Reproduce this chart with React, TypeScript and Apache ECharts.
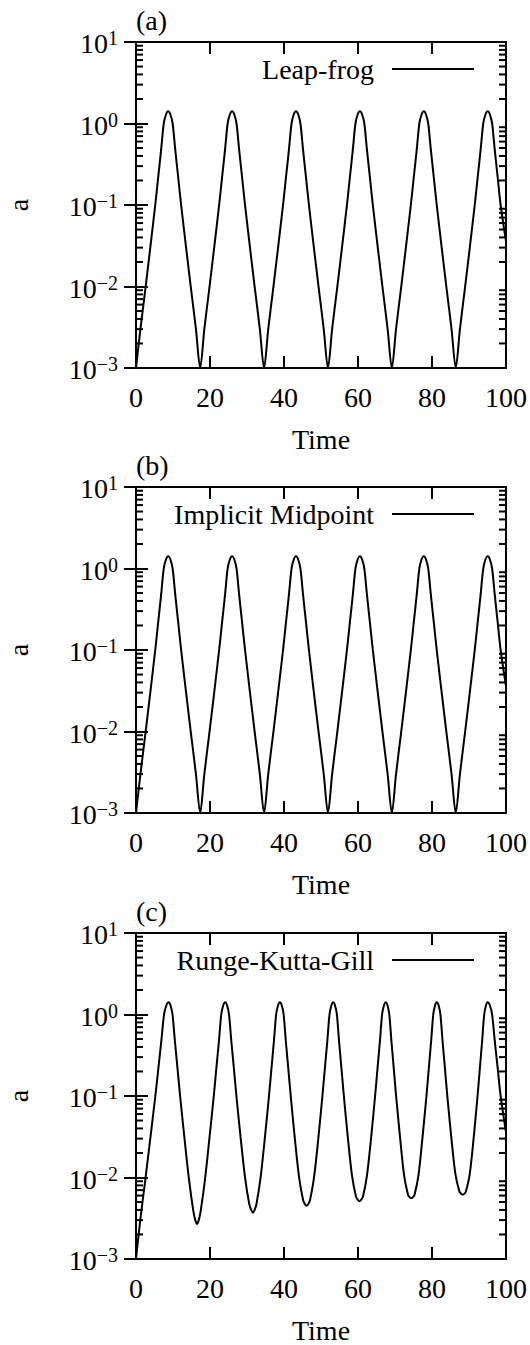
import React, { useEffect, useRef } from "react";
import * as echarts from "echarts";

const FONT = "Liberation Serif, Times New Roman, Times, serif";

// ---- axes / labels ----
const panelLabels = ["(a)", "(b)", "(c)"];
const methodNames = ["Leap-frog", "Implicit Midpoint", "Runge-Kutta-Gill"];
const xAxisName = "Time";
const yAxisName = "a";
const X_MIN = 0;
const X_MAX = 100;
const X_INTERVAL = 20;
const Y_MIN = 0.001;
const Y_MAX = 10;
const minorMantissas = [2, 3, 4, 5, 6, 7, 8, 9];
const minorDecades = [0.001, 0.01, 0.1, 1];

// ---- data: [time, a] ----
const leapFrog: [number, number][] = [
  [0.0, 0.001], [1.2, 0.003], [2.5, 0.0091], [3.9, 0.031], [5.2, 0.1], [6.0, 0.22], [6.8, 0.48], [7.5, 1.0], [8.1, 1.29], [8.7, 1.41],
  [9.3, 1.29], [9.9, 1.0], [10.6, 0.48], [11.4, 0.22], [12.2, 0.1], [13.5, 0.031], [14.9, 0.0091], [16.2, 0.003],
  [17.34, 0.001], [18.47, 0.003], [19.77, 0.0091], [21.17, 0.031], [22.47, 0.1], [23.27, 0.22], [24.07, 0.48], [24.77, 1.0], [25.37, 1.29], [25.97, 1.41],
  [26.57, 1.29], [27.17, 1.0], [27.87, 0.48], [28.67, 0.22], [29.47, 0.1], [30.77, 0.031], [32.17, 0.0091], [33.47, 0.003],
  [34.61, 0.001], [35.74, 0.003], [37.04, 0.0091], [38.44, 0.031], [39.74, 0.1], [40.54, 0.22], [41.34, 0.48], [42.04, 1.0], [42.64, 1.29], [43.24, 1.41],
  [43.84, 1.29], [44.44, 1.0], [45.14, 0.48], [45.94, 0.22], [46.74, 0.1], [48.04, 0.031], [49.44, 0.0091], [50.74, 0.003],
  [51.88, 0.001], [53.01, 0.003], [54.31, 0.0091], [55.71, 0.031], [57.01, 0.1], [57.81, 0.22], [58.61, 0.48], [59.31, 1.0], [59.91, 1.29], [60.51, 1.41],
  [61.11, 1.29], [61.71, 1.0], [62.41, 0.48], [63.21, 0.22], [64.01, 0.1], [65.31, 0.031], [66.71, 0.0091], [68.01, 0.003],
  [69.15, 0.001], [70.28, 0.003], [71.58, 0.0091], [72.98, 0.031], [74.28, 0.1], [75.08, 0.22], [75.88, 0.48], [76.58, 1.0], [77.18, 1.29], [77.78, 1.41],
  [78.38, 1.29], [78.98, 1.0], [79.68, 0.48], [80.48, 0.22], [81.28, 0.1], [82.58, 0.031], [83.98, 0.0091], [85.28, 0.003],
  [86.42, 0.001], [87.55, 0.003], [88.85, 0.0091], [90.25, 0.031], [91.55, 0.1], [92.35, 0.22], [93.15, 0.48], [93.85, 1.0], [94.45, 1.29], [95.05, 1.41],
  [95.65, 1.29], [96.25, 1.0], [96.95, 0.48], [97.75, 0.22], [98.55, 0.1], [100.0, 0.036],
];

const implicitMidpoint: [number, number][] = [
  [0.0, 0.001], [1.2, 0.003], [2.5, 0.0091], [3.9, 0.031], [5.2, 0.1], [6.0, 0.22], [6.8, 0.48], [7.5, 1.0], [8.1, 1.29], [8.7, 1.41],
  [9.3, 1.29], [9.9, 1.0], [10.6, 0.48], [11.4, 0.22], [12.2, 0.1], [13.5, 0.031], [14.9, 0.0091], [16.2, 0.003],
  [17.34, 0.001], [18.47, 0.003], [19.77, 0.0091], [21.17, 0.031], [22.47, 0.1], [23.27, 0.22], [24.07, 0.48], [24.77, 1.0], [25.37, 1.29], [25.97, 1.41],
  [26.57, 1.29], [27.17, 1.0], [27.87, 0.48], [28.67, 0.22], [29.47, 0.1], [30.77, 0.031], [32.17, 0.0091], [33.47, 0.003],
  [34.61, 0.001], [35.74, 0.003], [37.04, 0.0091], [38.44, 0.031], [39.74, 0.1], [40.54, 0.22], [41.34, 0.48], [42.04, 1.0], [42.64, 1.29], [43.24, 1.41],
  [43.84, 1.29], [44.44, 1.0], [45.14, 0.48], [45.94, 0.22], [46.74, 0.1], [48.04, 0.031], [49.44, 0.0091], [50.74, 0.003],
  [51.88, 0.001], [53.01, 0.003], [54.31, 0.0091], [55.71, 0.031], [57.01, 0.1], [57.81, 0.22], [58.61, 0.48], [59.31, 1.0], [59.91, 1.29], [60.51, 1.41],
  [61.11, 1.29], [61.71, 1.0], [62.41, 0.48], [63.21, 0.22], [64.01, 0.1], [65.31, 0.031], [66.71, 0.0091], [68.01, 0.003],
  [69.15, 0.001], [70.28, 0.003], [71.58, 0.0091], [72.98, 0.031], [74.28, 0.1], [75.08, 0.22], [75.88, 0.48], [76.58, 1.0], [77.18, 1.29], [77.78, 1.41],
  [78.38, 1.29], [78.98, 1.0], [79.68, 0.48], [80.48, 0.22], [81.28, 0.1], [82.58, 0.031], [83.98, 0.0091], [85.28, 0.003],
  [86.42, 0.001], [87.55, 0.003], [88.85, 0.0091], [90.25, 0.031], [91.55, 0.1], [92.35, 0.22], [93.15, 0.48], [93.85, 1.0], [94.45, 1.29], [95.05, 1.41],
  [95.65, 1.29], [96.25, 1.0], [96.95, 0.48], [97.75, 0.22], [98.55, 0.1], [100.0, 0.036],
];

const rungeKuttaGill: [number, number][] = [
  [0.0, 0.001], [1.15, 0.003], [2.48, 0.0091], [3.9, 0.031], [5.23, 0.1], [6.05, 0.22], [6.86, 0.48], [7.58, 1.0], [8.19, 1.29], [8.8, 1.41],
  [9.34, 1.29], [9.87, 1.0], [10.5, 0.48], [11.21, 0.22], [11.92, 0.1], [13.08, 0.031], [14.33, 0.0094], [15.49, 0.0039], [16.03, 0.003], [16.5, 0.0027],
  [16.96, 0.003], [17.49, 0.0039], [18.64, 0.0094], [19.87, 0.031], [21.02, 0.1], [21.72, 0.22], [22.43, 0.48], [23.04, 1.0], [23.57, 1.29], [24.1, 1.41],
  [24.62, 1.29], [25.14, 1.0], [25.75, 0.48], [26.45, 0.22], [27.14, 0.1], [28.27, 0.031], [29.49, 0.0098], [30.62, 0.0047], [31.14, 0.004], [31.6, 0.0037],
  [32.05, 0.004], [32.55, 0.0047], [33.65, 0.0098], [34.84, 0.031], [35.94, 0.1], [36.62, 0.22], [37.29, 0.48], [37.88, 1.0], [38.39, 1.29], [38.9, 1.41],
  [39.4, 1.29], [39.9, 1.0], [40.48, 0.48], [41.15, 0.22], [41.82, 0.1], [42.9, 0.031], [44.07, 0.0101], [45.16, 0.0053], [45.66, 0.0047], [46.1, 0.0045],
  [46.54, 0.0047], [47.04, 0.0053], [48.13, 0.0101], [49.3, 0.031], [50.38, 0.1], [51.05, 0.22], [51.72, 0.48], [52.3, 1.0], [52.8, 1.29], [53.3, 1.41],
  [53.79, 1.29], [54.29, 1.0], [54.86, 0.48], [55.52, 0.22], [56.18, 0.1], [57.25, 0.031], [58.4, 0.0104], [59.47, 0.0058], [59.97, 0.0053], [60.4, 0.0051],
  [60.83, 0.0053], [61.33, 0.0058], [62.4, 0.0104], [63.55, 0.031], [64.62, 0.1], [65.28, 0.22], [65.94, 0.48], [66.51, 1.0], [67.01, 1.29], [67.5, 1.41],
  [67.98, 1.29], [68.46, 1.0], [69.02, 0.48], [69.66, 0.22], [70.3, 0.1], [71.34, 0.032], [72.46, 0.0106], [73.5, 0.0062], [73.98, 0.0057], [74.4, 0.0056],
  [74.82, 0.0057], [75.3, 0.0062], [76.34, 0.0106], [77.46, 0.032], [78.5, 0.1], [79.14, 0.22], [79.78, 0.48], [80.34, 1.0], [80.82, 1.29], [81.3, 1.41],
  [81.79, 1.29], [82.27, 1.0], [82.84, 0.48], [83.49, 0.22], [84.14, 0.1], [85.19, 0.032], [86.33, 0.011], [87.38, 0.0068], [87.87, 0.0063], [88.3, 0.0062],
  [88.72, 0.0063], [89.18, 0.0068], [90.2, 0.011], [91.3, 0.032], [92.31, 0.1], [92.94, 0.22], [93.56, 0.48], [94.11, 1.0], [94.58, 1.29], [95.05, 1.41],
  [95.65, 1.29], [96.25, 1.0], [96.95, 0.48], [97.75, 0.22], [98.55, 0.1], [100.0, 0.036],
];

const seriesData = [leapFrog, implicitMidpoint, rungeKuttaGill];

// ---- layout ----
const W = 530;
const H = 1345;
const GRID_LEFT = 136;
const GRID_WIDTH = 370;
const GRID_HEIGHT = 326;
const GRID_TOPS = [42, 487, 933];

function expLabel(v: number): string {
  const e = Math.round(Math.log10(v));
  const s = e < 0 ? "\u2212" + Math.abs(e) : String(e);
  return `{b|10}{s|${s}}`;
}

export default function App() {
  const ref = useRef<HTMLDivElement>(null);

  useEffect(() => {
    if (!ref.current) return;
    const chart = echarts.init(ref.current, undefined, { renderer: "svg" });

    const minorTicks: number[] = [];
    minorDecades.forEach((d) => minorMantissas.forEach((m) => minorTicks.push(m * d)));

    const tickStyle = { color: "#000", width: 2 };
    const grids: any[] = [];
    const xAxes: any[] = [];
    const yAxes: any[] = [];
    const series: any[] = [];
    const legends: any[] = [];
    const graphics: any[] = [];

    GRID_TOPS.forEach((top, i) => {
      grids.push({
        left: GRID_LEFT,
        top,
        width: GRID_WIDTH,
        height: GRID_HEIGHT,
        containLabel: false,
        outerBoundsMode: "none",
        show: true,
        borderColor: "#000",
        borderWidth: 2,
        backgroundColor: "transparent",
      });
      xAxes.push({
        type: "value",
        gridIndex: i,
        min: X_MIN,
        max: X_MAX,
        interval: X_INTERVAL,
        position: "bottom",
        axisLine: { show: false },
        axisTick: { inside: true, length: 12, lineStyle: tickStyle },
        splitLine: { show: false },
        axisLabel: { margin: 15, fontFamily: FONT, fontSize: 28, color: "#000" },
        name: xAxisName,
        nameLocation: "middle",
        nameGap: 57,
        nameTextStyle: { fontFamily: FONT, fontSize: 28, color: "#000" },
      });
      xAxes.push({
        type: "value",
        gridIndex: i,
        min: X_MIN,
        max: X_MAX,
        interval: X_INTERVAL,
        position: "top",
        axisLine: { show: false },
        axisTick: { inside: true, length: 12, lineStyle: tickStyle },
        splitLine: { show: false },
        axisLabel: { show: false },
      });
      yAxes.push({
        type: "log",
        logBase: 10,
        gridIndex: i,
        min: Y_MIN,
        max: Y_MAX,
        position: "left",
        axisLine: { show: false },
        axisTick: { inside: true, length: 12, lineStyle: tickStyle },
        splitLine: { show: false },
        axisLabel: {
          margin: 18,
          showMinLabel: true,
          showMaxLabel: true,
          formatter: expLabel,
          rich: {
            b: { fontFamily: FONT, fontSize: 28, lineHeight: 28, padding: [3, 0, 0, 0], color: "#000" },
            s: { fontFamily: FONT, fontSize: 20, lineHeight: 20, verticalAlign: "top", color: "#000" },
          },
        },
        name: yAxisName,
        nameLocation: "middle",
        nameGap: 104,
        nameTextStyle: { fontFamily: FONT, fontSize: 28, color: "#000" },
      });
      yAxes.push({
        type: "log",
        logBase: 10,
        gridIndex: i,
        min: Y_MIN,
        max: Y_MAX,
        position: "right",
        axisLine: { show: false },
        axisTick: { inside: true, length: 12, lineStyle: tickStyle },
        splitLine: { show: false },
        axisLabel: { show: false },
      });

      series.push({
        name: methodNames[i],
        type: "line",
        xAxisIndex: 2 * i,
        yAxisIndex: 2 * i,
        data: seriesData[i],
        symbol: "none",
        showSymbol: false,
        smooth: 0.3,
        lineStyle: { color: "#000", width: 2 },
        itemStyle: { color: "#000" },
        z: 4,
      });

      // minor log ticks on left and right frame, positioned through the log axis
      series.push({
        type: "custom",
        name: "minor-" + i,
        xAxisIndex: 2 * i,
        yAxisIndex: 2 * i,
        data: [[X_MIN, Y_MIN]],
        silent: true,
        clip: false,
        z: 5,
        renderItem: (params: any, api: any) => {
          const cs = params.coordSys;
          const len = 7;
          const children: any[] = [];
          minorTicks.forEach((v) => {
            const p = api.coord([X_MIN, v]);
            const y = p[1];
            children.push({
              type: "line",
              shape: { x1: cs.x, y1: y, x2: cs.x + len, y2: y },
              style: { stroke: "#000", lineWidth: 2 },
            });
            children.push({
              type: "line",
              shape: { x1: cs.x + cs.width - len, y1: y, x2: cs.x + cs.width, y2: y },
              style: { stroke: "#000", lineWidth: 2 },
            });
          });
          return { type: "group", children };
        },
      });

      legends.push({
        data: [methodNames[i]],
        right: 56,
        top: top + 28 - 15,
        align: "right",
        orient: "horizontal",
        padding: 0,
        icon: "rect",
        itemWidth: 82,
        itemHeight: 2,
        selectedMode: false,
        textStyle: { fontFamily: FONT, fontSize: 28, color: "#000", padding: [0, 13, 0, 0] },
      });

      graphics.push({
        type: "text",
        left: GRID_LEFT,
        top: top - 36,
        style: { text: panelLabels[i], font: `28px ${FONT}`, fill: "#000" },
      });
    });

    chart.setOption({
      animation: false,
      backgroundColor: "#fff",
      grid: grids,
      xAxis: xAxes,
      yAxis: yAxes,
      legend: legends,
      series,
      graphic: graphics,
    });

    return () => chart.dispose();
  }, []);

  return (
    <div
      ref={ref}
      style={{ position: "absolute", left: 0, top: 0, width: W, height: H }}
    />
  );
}
